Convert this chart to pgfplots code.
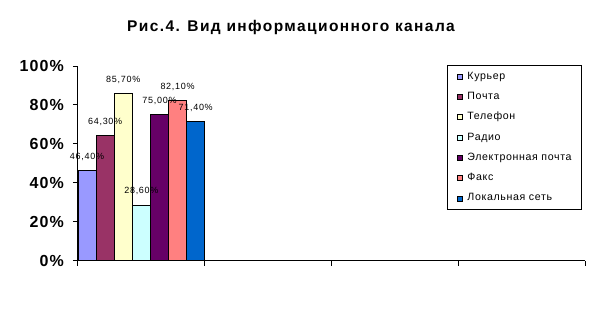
\documentclass[border=0pt]{standalone}
\usepackage{fontspec}
\setmainfont{Liberation Sans}
\usepackage{pgfplots}
\pgfplotsset{compat=1.18}
\definecolor{c1}{HTML}{9999FF}
\definecolor{c2}{HTML}{993366}
\definecolor{c3}{HTML}{FFFFCC}
\definecolor{c4}{HTML}{CCFFFF}
\definecolor{c5}{HTML}{660066}
\definecolor{c6}{HTML}{FF8080}
\definecolor{c7}{HTML}{0066CC}
\begin{document}
\begin{tikzpicture}[x=1pt,y=1pt]
\path[use as bounding box] (-78,-56.5) rectangle (516,260.5);
\node[anchor=base, font=\fontsize{15.5}{18}\selectfont\bfseries\addfontfeatures{LetterSpace=9}] at (213,229.5) {Рис.4. Вид информационного канала};
\begin{axis}[
  at={(0,0)}, anchor=south west,
  scale only axis, width=507pt, height=194.5pt,
  xmin=0, xmax=4, ymin=0, ymax=100,
  axis x line=bottom, axis y line=left,
  axis line style={-, line width=1pt, black},
  xtick={0,1,2,3,4}, xticklabels={},
  ytick={0,20,40,60,80,100},
  yticklabels={0\%,20\%,40\%,60\%,80\%,100\%},
  yticklabel style={font=\fontsize{16}{18}\selectfont\bfseries\addfontfeatures{LetterSpace=7}, inner sep=0pt, anchor=east, xshift=-9pt},
  tick align=outside, major tick length=5pt,
  tick style={line width=1pt, black},
  ybar,
  every axis plot post/.append style={bar shift=0pt, bar width=0.142857, draw=black, line width=0.75pt,
     legend image code/.code={\draw[##1, draw=black, line width=0.6pt] (0pt,-2.5pt) rectangle (5pt,2.5pt);}},
  nodes near coords={\pgfmathprintnumber[fixed,fixed zerofill,precision=2,use comma,assume math mode=true]{\pgfplotspointmeta}\%},
  every node near coord/.append style={font=\fontsize{9}{10}\selectfont\addfontfeatures{LetterSpace=8}, inner sep=0pt, yshift=9.6pt, black},
  legend style={at={(axis description cs:0.7278,1.0051)}, anchor=north west, draw=black, line width=0.75pt,
     inner xsep=9.5pt, inner ysep=6.8pt, row sep=11.3pt,
     font=\fontsize{10.6}{12}\selectfont\addfontfeatures{LetterSpace=6},
     nodes={inner sep=0pt, text height=7pt, text depth=2pt},
     /tikz/every odd column/.style={column sep=5pt}},
  legend cell align=left,
]
\addplot[fill=c1] coordinates {(0.0714286,46.4)};
\addplot[fill=c2] coordinates {(0.2142857,64.3)};
\addplot[fill=c3] coordinates {(0.3571429,85.7)};
\addplot[fill=c4] coordinates {(0.5,28.6)};
\addplot[fill=c5] coordinates {(0.6428571,75.0)};
\addplot[fill=c6] coordinates {(0.7857143,82.1)};
\addplot[fill=c7] coordinates {(0.9285714,71.4)};
\legend{Курьер,Почта,Телефон,Радио,Электронная почта,Факс,Локальная сеть}
\end{axis}
\end{tikzpicture}
\end{document}
